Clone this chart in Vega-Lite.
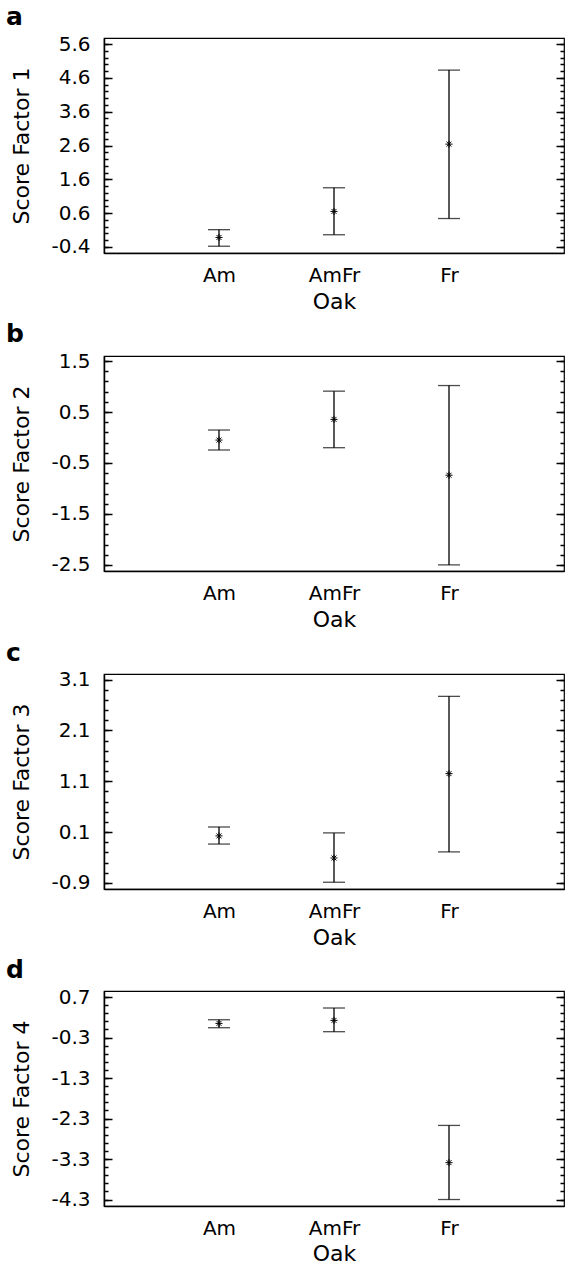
{
  "$schema": "https://vega.github.io/schema/vega-lite/v6.json",
  "padding": {"left": 5, "top": 4, "right": 0, "bottom": 0},
  "spacing": 8,
  "config": {
    "font": "DejaVu Sans",
    "view": {"stroke": "black", "strokeWidth": 1.2},
    "axis": {"domainColor": "black", "domainWidth": 1.5, "tickColor": "black", "tickWidth": 1.5, "labelColor": "black", "titleColor": "black", "labelFontSize": 20, "titleFontSize": 22, "titleFontWeight": "normal", "grid": false},
    "title": {"fontSize": 25, "fontWeight": "bold", "anchor": "start", "frame": "bounds", "color": "black", "offset": 4}
  },
  "datasets": {
    "a": [
      {"oak": "Am", "mean": -0.12, "low": -0.38, "high": 0.11},
      {"oak": "AmFr", "mean": 0.65, "low": -0.04, "high": 1.35},
      {"oak": "Fr", "mean": 2.64, "low": 0.44, "high": 4.83}
    ],
    "b": [
      {"oak": "Am", "mean": -0.05, "low": -0.245, "high": 0.147},
      {"oak": "AmFr", "mean": 0.356, "low": -0.2, "high": 0.91},
      {"oak": "Fr", "mean": -0.74, "low": -2.5, "high": 1.02}
    ],
    "c": [
      {"oak": "Am", "mean": 0.025, "low": -0.136, "high": 0.2},
      {"oak": "AmFr", "mean": -0.41, "low": -0.887, "high": 0.084},
      {"oak": "Fr", "mean": 1.25, "low": -0.29, "high": 2.77}
    ],
    "d": [
      {"oak": "Am", "mean": 0.05, "low": -0.057, "high": 0.14},
      {"oak": "AmFr", "mean": 0.124, "low": -0.155, "high": 0.43},
      {"oak": "Fr", "mean": -3.39, "low": -4.3, "high": -2.47}
    ]
  },
  "vconcat": [
    {
      "title": {"text": "a", "dx": -5},
      "width": 460, "height": 215,
      "data": {"name": "a"},
      "encoding": {"x": {"field": "oak", "type": "nominal", "sort": ["Am", "AmFr", "Fr"], "scale": {"type": "point", "padding": 1.1}, "axis": {"title": "Oak", "ticks": false, "labelAngle": 0, "labelPadding": 12, "labelDx": 5, "titlePadding": 6}}},
      "layer": [
        {"mark": {"type": "rule", "color": "black", "strokeWidth": 1.3},
         "encoding": {
           "y": {"field": "low", "type": "quantitative", "scale": {"domain": [-0.58, 5.78], "nice": false, "zero": false},
                 "axis": {"title": "Score Factor 1", "orient": "left", "format": ".1f", "values": [-0.4,0.6,1.6,2.6,3.6,4.6,5.6], "tickSize": -8,
                          "labelExpr": "replace(datum.label, '\u2212', '-')", "labelPadding": 22, "titlePadding": 17}},
           "y2": {"field": "high"}}},
        {"mark": {"type": "tick", "color": "black", "size": 22, "thickness": 1.3},
         "encoding": {"y": {"field": "low", "type": "quantitative", "axis": {"title": null, "orient": "left", "labels": false, "domain": false, "tickSize": -4, "values": [-0.4,-0.2,0,0.2,0.4,0.6,0.8,1,1.2,1.4,1.6,1.8,2,2.2,2.4,2.6,2.8,3,3.2,3.4,3.6,3.8,4,4.2,4.4,4.6,4.8,5,5.2,5.4,5.6]}}}},
        {"mark": {"type": "tick", "color": "black", "size": 22, "thickness": 1.3},
         "encoding": {"y": {"field": "high", "type": "quantitative", "axis": {"title": null, "orient": "right", "labels": false, "domain": false, "tickSize": -8, "values": [-0.4,0.6,1.6,2.6,3.6,4.6,5.6]}}}},
        {"mark": {"type": "point", "shape": "M-1,0L1,0M0,-1L0,1M-0.7,-0.7L0.7,0.7M-0.7,0.7L0.7,-0.7", "filled": false, "stroke": "black", "strokeWidth": 1, "size": 50, "opacity": 1},
         "encoding": {"y": {"field": "mean", "type": "quantitative", "axis": {"title": null, "orient": "right", "labels": false, "domain": false, "tickSize": -4, "values": [-0.4,-0.2,0,0.2,0.4,0.6,0.8,1,1.2,1.4,1.6,1.8,2,2.2,2.4,2.6,2.8,3,3.2,3.4,3.6,3.8,4,4.2,4.4,4.6,4.8,5,5.2,5.4,5.6]}}}}
      ],
      "resolve": {"axis": {"y": "independent"}}
    },
    {
      "title": {"text": "b", "dx": -5},
      "width": 460, "height": 215,
      "data": {"name": "b"},
      "encoding": {"x": {"field": "oak", "type": "nominal", "sort": ["Am", "AmFr", "Fr"], "scale": {"type": "point", "padding": 1.1}, "axis": {"title": "Oak", "ticks": false, "labelAngle": 0, "labelPadding": 12, "labelDx": 5, "titlePadding": 6}}},
      "layer": [
        {"mark": {"type": "rule", "color": "black", "strokeWidth": 1.3},
         "encoding": {
           "y": {"field": "low", "type": "quantitative", "scale": {"domain": [-2.62, 1.6], "nice": false, "zero": false},
                 "axis": {"title": "Score Factor 2", "orient": "left", "format": ".1f", "values": [-2.5,-1.5,-0.5,0.5,1.5], "tickSize": -8,
                          "labelExpr": "replace(datum.label, '\u2212', '-')", "labelPadding": 22, "titlePadding": 17}},
           "y2": {"field": "high"}}},
        {"mark": {"type": "tick", "color": "black", "size": 22, "thickness": 1.3},
         "encoding": {"y": {"field": "low", "type": "quantitative", "axis": {"title": null, "orient": "left", "labels": false, "domain": false, "tickSize": -4, "values": [-2.5,-2.3,-2.1,-1.9,-1.7,-1.5,-1.3,-1.1,-0.9,-0.7,-0.5,-0.3,-0.1,0.1,0.3,0.5,0.7,0.9,1.1,1.3,1.5]}}}},
        {"mark": {"type": "tick", "color": "black", "size": 22, "thickness": 1.3},
         "encoding": {"y": {"field": "high", "type": "quantitative", "axis": {"title": null, "orient": "right", "labels": false, "domain": false, "tickSize": -8, "values": [-2.5,-1.5,-0.5,0.5,1.5]}}}},
        {"mark": {"type": "point", "shape": "M-1,0L1,0M0,-1L0,1M-0.7,-0.7L0.7,0.7M-0.7,0.7L0.7,-0.7", "filled": false, "stroke": "black", "strokeWidth": 1, "size": 50, "opacity": 1},
         "encoding": {"y": {"field": "mean", "type": "quantitative", "axis": {"title": null, "orient": "right", "labels": false, "domain": false, "tickSize": -4, "values": [-2.5,-2.3,-2.1,-1.9,-1.7,-1.5,-1.3,-1.1,-0.9,-0.7,-0.5,-0.3,-0.1,0.1,0.3,0.5,0.7,0.9,1.1,1.3,1.5]}}}}
      ],
      "resolve": {"axis": {"y": "independent"}}
    },
    {
      "title": {"text": "c", "dx": -5},
      "width": 460, "height": 215,
      "data": {"name": "c"},
      "encoding": {"x": {"field": "oak", "type": "nominal", "sort": ["Am", "AmFr", "Fr"], "scale": {"type": "point", "padding": 1.1}, "axis": {"title": "Oak", "ticks": false, "labelAngle": 0, "labelPadding": 12, "labelDx": 5, "titlePadding": 6}}},
      "layer": [
        {"mark": {"type": "rule", "color": "black", "strokeWidth": 1.3},
         "encoding": {
           "y": {"field": "low", "type": "quantitative", "scale": {"domain": [-1.02, 3.21], "nice": false, "zero": false},
                 "axis": {"title": "Score Factor 3", "orient": "left", "format": ".1f", "values": [-0.9,0.1,1.1,2.1,3.1], "tickSize": -8,
                          "labelExpr": "replace(datum.label, '\u2212', '-')", "labelPadding": 22, "titlePadding": 17}},
           "y2": {"field": "high"}}},
        {"mark": {"type": "tick", "color": "black", "size": 22, "thickness": 1.3},
         "encoding": {"y": {"field": "low", "type": "quantitative", "axis": {"title": null, "orient": "left", "labels": false, "domain": false, "tickSize": -4, "values": [-0.9,-0.7,-0.5,-0.3,-0.1,0.1,0.3,0.5,0.7,0.9,1.1,1.3,1.5,1.7,1.9,2.1,2.3,2.5,2.7,2.9,3.1]}}}},
        {"mark": {"type": "tick", "color": "black", "size": 22, "thickness": 1.3},
         "encoding": {"y": {"field": "high", "type": "quantitative", "axis": {"title": null, "orient": "right", "labels": false, "domain": false, "tickSize": -8, "values": [-0.9,0.1,1.1,2.1,3.1]}}}},
        {"mark": {"type": "point", "shape": "M-1,0L1,0M0,-1L0,1M-0.7,-0.7L0.7,0.7M-0.7,0.7L0.7,-0.7", "filled": false, "stroke": "black", "strokeWidth": 1, "size": 50, "opacity": 1},
         "encoding": {"y": {"field": "mean", "type": "quantitative", "axis": {"title": null, "orient": "right", "labels": false, "domain": false, "tickSize": -4, "values": [-0.9,-0.7,-0.5,-0.3,-0.1,0.1,0.3,0.5,0.7,0.9,1.1,1.3,1.5,1.7,1.9,2.1,2.3,2.5,2.7,2.9,3.1]}}}}
      ],
      "resolve": {"axis": {"y": "independent"}}
    },
    {
      "title": {"text": "d", "dx": -5},
      "width": 460, "height": 215,
      "data": {"name": "d"},
      "encoding": {"x": {"field": "oak", "type": "nominal", "sort": ["Am", "AmFr", "Fr"], "scale": {"type": "point", "padding": 1.1}, "axis": {"title": "Oak", "ticks": false, "labelAngle": 0, "labelPadding": 12, "labelDx": 5, "titlePadding": 5}}},
      "layer": [
        {"mark": {"type": "rule", "color": "black", "strokeWidth": 1.3},
         "encoding": {
           "y": {"field": "low", "type": "quantitative", "scale": {"domain": [-4.46, 0.85], "nice": false, "zero": false},
                 "axis": {"title": "Score Factor 4", "orient": "left", "format": ".1f", "values": [-4.3,-3.3,-2.3,-1.3,-0.3,0.7], "tickSize": -8,
                          "labelExpr": "replace(datum.label, '\u2212', '-')", "labelPadding": 22, "titlePadding": 17}},
           "y2": {"field": "high"}}},
        {"mark": {"type": "tick", "color": "black", "size": 22, "thickness": 1.3},
         "encoding": {"y": {"field": "low", "type": "quantitative", "axis": {"title": null, "orient": "left", "labels": false, "domain": false, "tickSize": -4, "values": [-4.3,-4.1,-3.9,-3.7,-3.5,-3.3,-3.1,-2.9,-2.7,-2.5,-2.3,-2.1,-1.9,-1.7,-1.5,-1.3,-1.1,-0.9,-0.7,-0.5,-0.3,-0.1,0.1,0.3,0.5,0.7]}}}},
        {"mark": {"type": "tick", "color": "black", "size": 22, "thickness": 1.3},
         "encoding": {"y": {"field": "high", "type": "quantitative", "axis": {"title": null, "orient": "right", "labels": false, "domain": false, "tickSize": -8, "values": [-4.3,-3.3,-2.3,-1.3,-0.3,0.7]}}}},
        {"mark": {"type": "point", "shape": "M-1,0L1,0M0,-1L0,1M-0.7,-0.7L0.7,0.7M-0.7,0.7L0.7,-0.7", "filled": false, "stroke": "black", "strokeWidth": 1, "size": 50, "opacity": 1},
         "encoding": {"y": {"field": "mean", "type": "quantitative", "axis": {"title": null, "orient": "right", "labels": false, "domain": false, "tickSize": -4, "values": [-4.3,-4.1,-3.9,-3.7,-3.5,-3.3,-3.1,-2.9,-2.7,-2.5,-2.3,-2.1,-1.9,-1.7,-1.5,-1.3,-1.1,-0.9,-0.7,-0.5,-0.3,-0.1,0.1,0.3,0.5,0.7]}}}}
      ],
      "resolve": {"axis": {"y": "independent"}}
    }
  ]
}
